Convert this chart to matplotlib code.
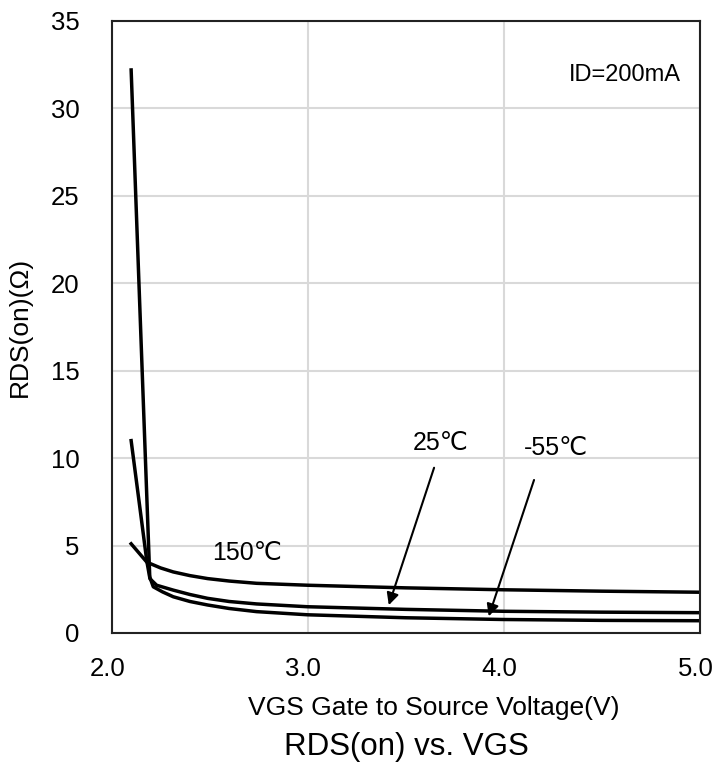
import matplotlib.pyplot as plt
from matplotlib.transforms import ScaledTranslation

plt.rcParams['font.family'] = ['Liberation Sans', 'DejaVu Sans']

# RDS(on) vs VGS curves
vgs_150 = [2.1, 2.18, 2.25, 2.315, 2.4, 2.49, 2.6, 2.74, 3.0, 3.5, 4.0, 4.5, 5.0]
rds_150 = [5.1, 4.05, 3.72, 3.49, 3.28, 3.11, 2.97, 2.84, 2.73, 2.58, 2.47, 2.39, 2.33]

vgs_25 = [2.1, 2.15, 2.18, 2.196, 2.23, 2.315, 2.4, 2.49, 2.6, 2.74, 3.0, 3.5, 4.0, 4.5, 5.0]
rds_25 = [11.0, 6.7, 4.1, 3.1, 2.73, 2.45, 2.2, 1.98, 1.8, 1.66, 1.5, 1.35, 1.24, 1.19, 1.16]

vgs_m55 = [2.1, 2.15, 2.195, 2.213, 2.26, 2.315, 2.4, 2.49, 2.6, 2.74, 3.0, 3.5, 4.0, 4.5, 5.0]
rds_m55 = [32.2, 16.9, 3.2, 2.64, 2.35, 2.07, 1.8, 1.6, 1.4, 1.22, 1.04, 0.87, 0.77, 0.72, 0.7]

xticks = [2.0, 3.0, 4.0, 5.0]
yticks = [0, 5, 10, 15, 20, 25, 30, 35]

fig = plt.figure(figsize=(7.15, 7.69), dpi=100)
ax = fig.add_axes([0.156, 0.1769, 0.8224, 0.7958])

ax.plot(vgs_150, rds_150, color='black', lw=2.5)
ax.plot(vgs_25, rds_25, color='black', lw=2.5)
ax.plot(vgs_m55, rds_m55, color='black', lw=2.5)

ax.set_xlim(2.0, 5.0)
ax.set_ylim(0, 35)
ax.set_xticks(xticks)
ax.set_xticklabels(['%.1f' % v for v in xticks])
ax.set_yticks(yticks)
ax.tick_params(length=0, labelsize=18.5)
ax.tick_params(axis='y', pad=23)
ax.tick_params(axis='x', pad=17)
# labels sit a few pixels left of their gridlines in the original
shift = ScaledTranslation(-3 / 72, 0, fig.dpi_scale_trans)
for lab in ax.get_xticklabels():
    lab.set_transform(lab.get_transform() + shift)
ax.grid(True, color='#d9d9d9', lw=1.5)
ax.set_axisbelow(True)
for s in ax.spines.values():
    s.set_linewidth(1.5)
    s.set_color('#222222')

fig.text(0.028, 0.575, 'RDS(on)(Ω)', fontsize=19, rotation=90,
         ha='center', va='center')
fig.text(0.606, 0.0793, 'VGS Gate to Source Voltage(V)', fontsize=19,
         ha='center', va='center')
fig.text(0.568, 0.029, 'RDS(on) vs. VGS', fontsize=22.5, ha='center', va='center')

ax.text(4.62, 31.9, 'ID=200mA', fontsize=17, ha='center', va='center')
ax.text(2.69, 4.6, '150℃', fontsize=18, ha='center', va='center')
ax.text(3.68, 10.86, '25℃', fontsize=18, ha='center', va='center')
ax.text(4.27, 10.57, '-55℃', fontsize=18, ha='center', va='center')

arrow = dict(arrowstyle='-|>', color='black', lw=1.5, mutation_scale=18)
ax.annotate('', xy=(3.41, 1.44), xytext=(3.65, 9.6), arrowprops=arrow)
ax.annotate('', xy=(3.92, 0.8), xytext=(4.16, 8.9), arrowprops=arrow)

fig.savefig('out.png', dpi=100)
